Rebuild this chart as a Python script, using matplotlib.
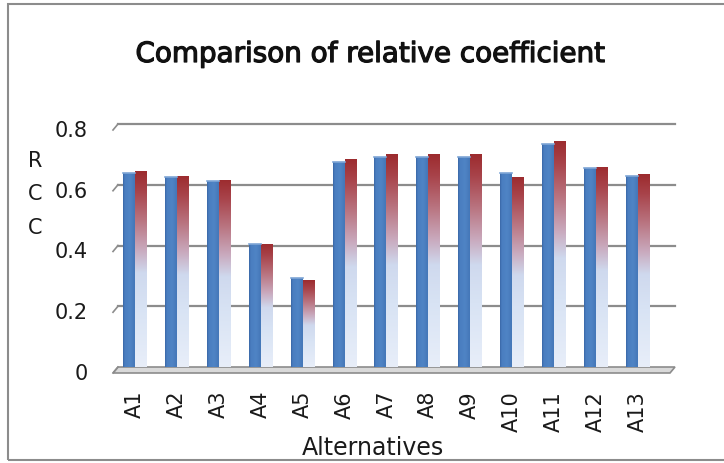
import numpy as np
import matplotlib
matplotlib.use("Agg")
import matplotlib.pyplot as plt
import matplotlib.patheffects as pe
from matplotlib.colors import LinearSegmentedColormap
from matplotlib.patches import Polygon, Rectangle
from matplotlib.transforms import offset_copy

plt.rcParams['font.family'] = ['DejaVu Sans']

alternatives = ['A1', 'A2', 'A3', 'A4', 'A5', 'A6', 'A7', 'A8', 'A9', 'A10', 'A11', 'A12', 'A13']
rcc_a = [0.638, 0.625, 0.613, 0.405, 0.293, 0.675, 0.690, 0.690, 0.690, 0.638, 0.735, 0.656, 0.630]
rcc_b = [0.645, 0.630, 0.616, 0.405, 0.285, 0.685, 0.700, 0.700, 0.700, 0.626, 0.745, 0.659, 0.635]
yticks = [0, 0.2, 0.4, 0.6, 0.8]
ytick_labels = ['0', '0.2', '0.4', '0.6', '0.8']

W, H = 724, 464
fig = plt.figure(figsize=(W / 100, H / 100), dpi=100)

# plot area in pixels: left wall at x=113, right end x=675, 0 at y=368, 0.8 at y=125
ax = fig.add_axes([113 / W, (H - 368) / H, (675 - 113) / W, (368 - 125) / H])
step = 41.9
xmin = (113 - 135) / step
xmax = (675 - 135) / step
ax.set_xlim(xmin, xmax)
ax.set_ylim(0, 0.8)
ax.axis('off')

px_x = 1 / step
px_y = 0.8 / 243
depth_x, depth_y = 5 * px_x, 6 * px_y
txt = '#1a1a1a'

# floor
floor = Polygon([(xmin, -depth_y), (xmax - depth_x, -depth_y), (xmax, 0), (xmin + depth_x, 0)],
                closed=True, facecolor='#d9d9d9', edgecolor='#8c8c8c', lw=1.2, clip_on=False, zorder=1)
ax.add_patch(floor)

# gridlines on the back wall with the short side-wall edge on the left
for v in yticks[1:]:
    ax.plot([xmin + depth_x, xmax], [v, v], color='#8c8c8c', lw=1.6, zorder=1, clip_on=False)
    ax.plot([xmin, xmin + depth_x], [v - depth_y, v], color='#8c8c8c', lw=1.2, zorder=1, clip_on=False)
ax.plot([xmin, xmin + depth_x], [-depth_y, 0], color='#8c8c8c', lw=1.2, zorder=1, clip_on=False)

# y tick labels, "RCC" label
lbl_tr = offset_copy(ax.transData, fig=fig, x=0, y=-6, units='dots')
for v, t in zip(yticks, ytick_labels):
    ax.text((88 - 135) / step, v, t, transform=lbl_tr, ha='right', va='center',
            fontsize=15, color=txt)
for k, ch in enumerate(['R', 'C', 'C']):
    fig.text(35 / W, 1 - (161 + 33.5 * k) / H, ch, ha='center', va='center', fontsize=15, color=txt)

# gradients
blue_cmap = LinearSegmentedColormap.from_list('blue_bar', [
    (0.0, '#3a67a6'), (0.15, '#4a7ec0'), (0.6, '#4f84c5'), (1.0, '#4577b8')])
red_cmap = LinearSegmentedColormap.from_list('red_bar', [
    (0.0, '#e8eef9'), (0.3, '#d8e3f4'), (0.48, '#cfd9ee'), (0.6, '#c9a9bd'),
    (0.75, '#b97480'), (0.9, '#a8434a'), (1.0, '#9c2b2e')])

bw = 12 * px_x
x = np.arange(len(alternatives))
bars_a = ax.bar(x - bw / 2, rcc_a, width=bw, color='none', zorder=3)
bars_b = ax.bar(x + bw / 2, rcc_b, width=bw, color='none', zorder=3)

hgrad = np.linspace(0, 1, 64).reshape(1, -1)
vgrad = np.linspace(1, 0, 256).reshape(-1, 1)
for bar in bars_a:
    x0, w, h = bar.get_x(), bar.get_width(), bar.get_height()
    im = ax.imshow(hgrad, cmap=blue_cmap, extent=[x0, x0 + w, 0, h], aspect='auto', zorder=3)
    im.set_clip_path(bar)
    ax.plot([x0, x0 + w], [h, h], color='#7fa6d6', lw=1.2, zorder=4)
for bar in bars_b:
    x0, w, h = bar.get_x(), bar.get_width(), bar.get_height()
    shade = vgrad * np.ones((1, 16))
    im = ax.imshow(shade, cmap=red_cmap, vmin=0, vmax=1, extent=[x0, x0 + w, 0, h], aspect='auto', zorder=3)
    im.set_clip_path(bar)

ax.set_xlim(xmin, xmax)
ax.set_ylim(0, 0.8)

# category labels
for i, name in enumerate(alternatives):
    ax.text(i, 0, name, transform=offset_copy(ax.transData, fig=fig, x=0, y=-23, units='dots'),
            rotation=90, ha='center', va='top', fontsize=15, color=txt)

fig.text(373 / W, 1 - 455 / H, 'Alternatives', ha='center', va='baseline', fontsize=17, color=txt)
title = fig.text(370 / W, 1 - 63 / H, 'Comparison of relative coefficient', ha='center', va='baseline',
                 fontsize=20, color='#111111')
title.set_path_effects([pe.withStroke(linewidth=0.9, foreground='#111111')])

# chart border
fig.patches.append(Rectangle((8 / W, 3 / H), 1.2, 1 - 8 / H, transform=fig.transFigure,
                             fill=False, edgecolor='#8c8c8c', lw=1.5))

fig.savefig('out.png', dpi=100)
